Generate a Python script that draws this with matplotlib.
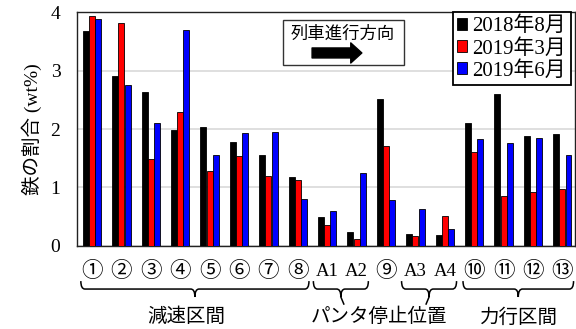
import matplotlib
matplotlib.use("Agg")
import matplotlib.pyplot as plt
import numpy as np
from matplotlib.path import Path
from matplotlib.patches import PathPatch, Rectangle

plt.rcParams['font.family'] = ['Liberation Serif', 'Noto Sans CJK JP']
GOTHIC = ['Noto Sans CJK JP']

# iron content per measuring point (wt%)
points = ['①', '②', '③', '④', '⑤', '⑥', '⑦', '⑧', 'A1', 'A2', '⑨',
          'A3', 'A4', '⑩', '⑪', '⑫', '⑬']
aug2018 = [3.68, 2.91, 2.64, 1.99, 2.03, 1.78, 1.56, 1.18, 0.50, 0.24, 2.51,
           0.21, 0.18, 2.10, 2.60, 1.88, 1.91]
mar2019 = [3.93, 3.82, 1.49, 2.29, 1.29, 1.54, 1.20, 1.13, 0.36, 0.12, 1.71,
           0.17, 0.51, 1.60, 0.85, 0.93, 0.98]
jun2019 = [3.88, 2.75, 2.11, 3.70, 1.56, 1.94, 1.95, 0.81, 0.60, 1.24, 0.79,
           0.64, 0.29, 1.83, 1.76, 1.84, 1.55]
series = [('2018年8月', aug2018, 'black'),
          ('2019年3月', mar2019, '#ff0000'),
          ('2019年6月', jun2019, '#0000ff')]

# brace spans (first, last point index) and the section names under them
braces = [(0, 7), (8, 9), (11, 12), (13, 16)]
sections = [('減速区間', 3.2), ('パンタ停止位置', 9.75), ('力行区間', 14.52)]

fig = plt.figure(figsize=(5.76, 3.29), dpi=100)
ax = fig.add_axes([0.1337, 0.2523, 0.8646, 0.7112])

x = np.arange(len(points))
w = 0.2
for i, (name, vals, col) in enumerate(series):
    ax.bar(x + (i - 1) * 0.21, vals, w, color=col, edgecolor='black',
           linewidth=0.6, label=name, zorder=3)

ax.set_xlim(-0.51, 16.43)
ax.set_ylim(0, 4)
ax.set_yticks([0, 1, 2, 3, 4])
ax.set_xticks([])
ax.tick_params(axis='y', length=0, pad=12, labelsize=14)
ax.yaxis.grid(True, color='#d9d9d9', linewidth=1.2, zorder=0)
for s in ax.spines.values():
    s.set_color('#222222')
    s.set_linewidth(1.0)
ax.set_ylabel('鉄の割合 (wt%)', fontsize=14, labelpad=6)

trans = ax.get_xaxis_transform()
for xi, lab in zip(x, points):
    size = 13.5 if lab.startswith('A') else 15.5
    ax.text(xi, -0.111, lab, transform=trans, ha='center', va='center',
            fontsize=size)


def brace(x0, x1, tail=False):
    yt, ym, yb = -0.150, -0.184, -0.218
    r = 0.14
    xc = (x0 + x1) / 2
    verts = [(x0, yt), (x0, ym), (x0 + r, ym), (xc - r, ym), (xc, ym), (xc, yb),
             (xc, ym), (xc + r, ym), (x1 - r, ym), (x1, ym), (x1, yt)]
    codes = [Path.MOVETO, Path.CURVE3, Path.CURVE3, Path.LINETO, Path.CURVE3,
             Path.CURVE3, Path.CURVE3, Path.CURVE3, Path.LINETO, Path.CURVE3,
             Path.CURVE3]
    ax.add_patch(PathPatch(Path(verts, codes), fill=False, lw=1.1,
                           transform=trans, clip_on=False))
    if tail:
        ax.plot([xc, xc + (0.1 if xc < 10 else -0.1)], [yb, -0.248],
                color='black', lw=1.1, transform=trans, clip_on=False)


for a, b in braces:
    short = (b - a) == 1
    brace(a - (0.47 if short else 0.38), b + (0.4 if short else 0.38), tail=short)

for name, xs in sections:
    ax.text(xs, -0.303, name, transform=trans, ha='center', va='center',
            fontsize=14, family=GOTHIC)

# direction-of-travel box
ax.add_patch(Rectangle((0.414, 0.774), 0.243, 0.192, transform=ax.transAxes,
                       facecolor='white', edgecolor='#333333', lw=1.0, zorder=4))
ax.text(0.534, 0.905, '列車進行方向', transform=ax.transAxes, ha='center',
        va='center', fontsize=12.5, family=GOTHIC, zorder=5)
ax.annotate('', xy=(0.572, 0.825), xytext=(0.472, 0.825),
            xycoords='axes fraction', textcoords='axes fraction',
            arrowprops=dict(arrowstyle='simple,head_length=0.8,head_width=1.45,tail_width=0.72',
                            mutation_scale=10, color='black', shrinkA=0, shrinkB=0),
            zorder=5)

leg = ax.legend(loc='upper right', bbox_to_anchor=(0.991, 0.998), fontsize=15,
                handlelength=0.5, handleheight=0.5, handletextpad=0.25,
                labelspacing=0.12, borderpad=0.2, borderaxespad=0,
                fancybox=False, framealpha=1)
leg.get_frame().set_edgecolor('black')
leg.get_frame().set_linewidth(1.3)
leg.set_zorder(6)

fig.savefig('out.png', dpi=100)
